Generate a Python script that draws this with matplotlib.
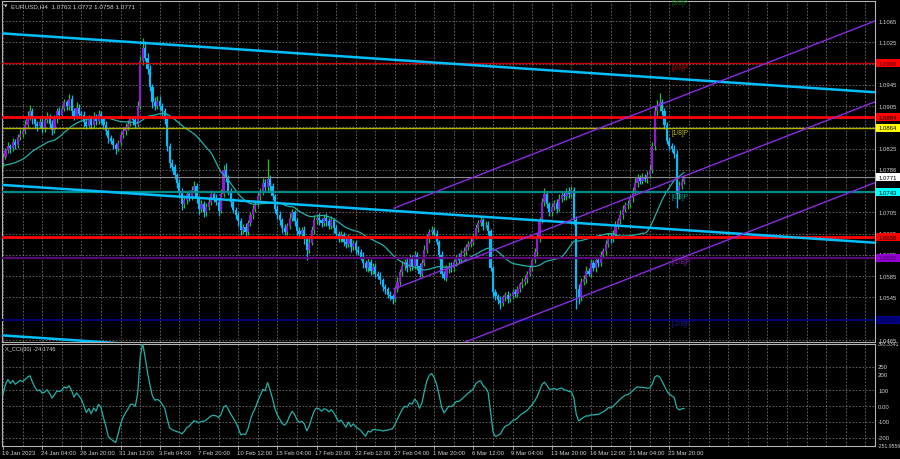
import numpy as np
import pandas as pd
import matplotlib
matplotlib.use("Agg")
import matplotlib.pyplot as plt
from matplotlib.patches import Rectangle
from matplotlib.transforms import blended_transform_factory as blend

# ---------------- data ----------------
SYMBOL_TITLE = "EURUSD,H4  1.0763 1.0772 1.0758 1.0771"
CCI_TITLE = "X_CCI(30) -24.1746"

# H4 closes before the visible window (warm-up for MA(30) and CCI(30))
PRE_CLOSE = [1.0800, 1.0795, 1.0805, 1.0798, 1.0790, 1.0785, 1.0792, 1.0788, 1.0780, 1.0772,
             1.0765, 1.0770, 1.0778, 1.0785, 1.0790, 1.0795, 1.0788, 1.0800, 1.0812, 1.0830,
             1.0845, 1.0800, 1.0790, 1.0785, 1.0780, 1.0788, 1.0795, 1.0790, 1.0798]

CLOSE = [
    1.0810, 1.0822, 1.0830, 1.0826, 1.0838, 1.0832, 1.0846, 1.0852,
    1.0858, 1.0870, 1.0885, 1.0895, 1.0880, 1.0872, 1.0868, 1.0875,
    1.0862, 1.0878, 1.0885, 1.0872, 1.0860, 1.0880, 1.0895, 1.0888,
    1.0900, 1.0912, 1.0905, 1.0918, 1.0895, 1.0885, 1.0902, 1.0890,
    1.0888, 1.0875, 1.0868, 1.0882, 1.0870, 1.0885, 1.0876, 1.0890,
    1.0880, 1.0870, 1.0858, 1.0845, 1.0840, 1.0832, 1.0825, 1.0835,
    1.0850, 1.0858, 1.0866, 1.0872, 1.0880, 1.0878, 1.0870, 1.0905,
    1.0990, 1.1015, 1.0995, 1.0975, 1.0940, 1.0912, 1.0905, 1.0915,
    1.0905, 1.0895, 1.0880, 1.0830, 1.0798, 1.0790, 1.0775, 1.0760,
    1.0745, 1.0720, 1.0728, 1.0740, 1.0735, 1.0748, 1.0755, 1.0730,
    1.0712, 1.0720, 1.0705, 1.0715, 1.0725, 1.0740, 1.0732, 1.0725,
    1.0708, 1.0740, 1.0785, 1.0770, 1.0745, 1.0725, 1.0710, 1.0700,
    1.0688, 1.0672, 1.0678, 1.0668, 1.0685, 1.0700, 1.0712, 1.0720,
    1.0735, 1.0745, 1.0760, 1.0752, 1.0768, 1.0755, 1.0735, 1.0712,
    1.0700, 1.0690, 1.0675, 1.0668, 1.0680, 1.0695, 1.0705, 1.0688,
    1.0670, 1.0665, 1.0672, 1.0655, 1.0635, 1.0648, 1.0672, 1.0690,
    1.0695, 1.0690, 1.0685, 1.0695, 1.0688, 1.0680, 1.0690, 1.0675,
    1.0665, 1.0655, 1.0662, 1.0650, 1.0645, 1.0655, 1.0640, 1.0648,
    1.0635, 1.0630, 1.0622, 1.0610, 1.0600, 1.0612, 1.0595, 1.0603,
    1.0590, 1.0585, 1.0578, 1.0565, 1.0560, 1.0550, 1.0548, 1.0542,
    1.0560, 1.0575, 1.0592, 1.0605, 1.0612, 1.0600, 1.0620, 1.0605,
    1.0625, 1.0605, 1.0590, 1.0610, 1.0635, 1.0655, 1.0668, 1.0672,
    1.0665, 1.0650, 1.0625, 1.0590, 1.0582, 1.0598, 1.0605, 1.0600,
    1.0612, 1.0620, 1.0615, 1.0628, 1.0632, 1.0640, 1.0645, 1.0650,
    1.0660, 1.0675, 1.0685, 1.0690, 1.0680, 1.0682, 1.0670, 1.0600,
    1.0555, 1.0548, 1.0540, 1.0535, 1.0545, 1.0550, 1.0543, 1.0548,
    1.0555, 1.0552, 1.0560, 1.0570, 1.0575, 1.0580, 1.0590, 1.0600,
    1.0615, 1.0630, 1.0655, 1.0690, 1.0725, 1.0740, 1.0720, 1.0705,
    1.0715, 1.0722, 1.0712, 1.0730, 1.0738, 1.0735, 1.0745, 1.0740,
    1.0748, 1.0690, 1.0560, 1.0545, 1.0575, 1.0580, 1.0595, 1.0590,
    1.0610, 1.0600, 1.0615, 1.0610, 1.0625, 1.0632, 1.0645, 1.0660,
    1.0655, 1.0665, 1.0680, 1.0690, 1.0700, 1.0712, 1.0718, 1.0720,
    1.0732, 1.0745, 1.0760, 1.0770, 1.0765, 1.0772, 1.0768, 1.0775,
    1.0785, 1.0830, 1.0895, 1.0905, 1.0912, 1.0895, 1.0870, 1.0840,
    1.0830, 1.0825, 1.0815, 1.0740, 1.0755, 1.0763, 1.0771]

UPPER_WICK_PIPS = [
    6, 5, 8, 4, 7, 5, 6, 9,   5, 8, 10, 12, 6, 7, 5, 8,   9, 6, 8, 5, 7, 9, 6, 8,
    7, 6, 5, 9, 8, 6, 10, 7,  5, 8, 6, 7, 5, 9, 6, 8,    6, 5, 7, 4, 6, 5, 4, 7,
    6, 5, 8, 6, 7, 5, 8, 10,  10, 18, 12, 9, 8, 7, 10, 9, 8, 6, 7, 9, 5, 8, 6, 5,
    7, 5, 9, 6, 8, 7, 10, 6,  5, 8, 6, 7, 9, 8, 6, 7,    5, 9, 10, 12, 6, 5, 7, 6,
    5, 7, 6, 8, 5, 6, 7, 5,   8, 6, 9, 7, 37, 8, 6, 5,   6, 7, 5, 8, 6, 9, 7, 5,
    6, 8, 5, 7, 6, 9, 7, 8,   6, 9, 5, 7, 8, 6, 9, 5,    7, 5, 8, 6, 7, 9, 5, 6,
    5, 7, 6, 8, 5, 9, 6, 7,   6, 5, 7, 4, 6, 5, 7, 4,    6, 8, 7, 9, 6, 8, 7, 5,
    8, 6, 5, 7, 8, 9, 6, 8,   5, 6, 4, 7, 5, 8, 6, 7,    6, 5, 8, 6, 7, 5, 6, 8,
    7, 9, 6, 8, 5, 7, 6, 4,   5, 6, 4, 7, 5, 6, 8, 5,    6, 5, 7, 5, 6, 8, 5, 7,
    6, 8, 9, 7, 8, 10, 6, 5,  7, 6, 8, 9, 6, 7, 5, 8,    6, 4, 8, 10, 6, 7, 9, 6,
    8, 6, 7, 5, 8, 6, 9, 7,   6, 7, 8, 5, 9, 6, 7, 8,    6, 7, 9, 8, 6, 7, 5, 8,
    9, 7, 10, 12, 18, 6, 7, 5, 6, 5, 7, 8, 9, 6, 1]

LOWER_WICK_PIPS = [
    7, 5, 6, 9, 5, 8, 6, 5,   6, 5, 7, 6, 9, 8, 10, 5,   7, 6, 5, 8, 9, 5, 6, 7,
    6, 5, 8, 7, 9, 6, 5, 8,   7, 9, 6, 5, 8, 6, 7, 5,    6, 8, 7, 9, 6, 8, 10, 5,
    6, 5, 7, 6, 5, 8, 6, 5,   5, 8, 6, 9, 7, 10, 8, 6,   7, 9, 8, 10, 9, 7, 8, 9,
    8, 10, 6, 7, 9, 6, 5, 8,  10, 7, 9, 6, 5, 7, 8, 6,   9, 5, 6, 7, 8, 9, 7, 8,
    9, 10, 7, 8, 6, 5, 7, 6,  5, 6, 7, 8, 6, 9, 7, 8,    7, 8, 9, 6, 5, 7, 6, 8,
    7, 6, 8, 10, 20, 6, 5, 7, 6, 8, 7, 5, 9, 6, 7, 8,    7, 6, 5, 8, 7, 6, 9, 5,
    8, 6, 7, 9, 6, 8, 7, 6,   7, 6, 8, 7, 9, 6, 8, 9,    6, 5, 7, 6, 8, 7, 5, 9,
    6, 8, 7, 5, 6, 7, 8, 6,   7, 6, 8, 9, 5, 6, 7, 8,    6, 7, 5, 6, 8, 7, 6, 5,
    6, 5, 7, 6, 8, 5, 7, 6,   9, 7, 8, 11, 6, 7, 8, 6,   5, 7, 6, 5, 7, 6, 8, 5,
    6, 5, 7, 6, 5, 8, 7, 6,   7, 6, 8, 5, 6, 7, 6, 8,    6, 8, 37, 12, 7, 6, 8, 5,
    7, 6, 8, 7, 6, 5, 7, 6,   8, 6, 5, 7, 6, 8, 7, 6,    5, 7, 6, 8, 7, 6, 5, 7,
    6, 5, 7, 8, 9, 7, 8, 6,   7, 6, 8, 27, 9, 6, 5]

TIME_LABELS = ["19 Jan 2023", "24 Jan 04:00", "26 Jan 20:00", "31 Jan 12:00", "3 Feb 04:00",
               "7 Feb 20:00", "10 Feb 12:00", "15 Feb 04:00", "17 Feb 20:00", "22 Feb 12:00",
               "27 Feb 04:00", "1 Mar 20:00", "6 Mar 12:00", "9 Mar 04:00", "13 Mar 20:00",
               "16 Mar 12:00", "21 Mar 04:00", "23 Mar 20:00"]
TIME_LABEL_BARS = [0, 16, 32, 48, 64, 80, 96, 112, 128, 144, 160, 176, 192, 208, 224, 240, 256, 272]

PRICE_TICKS = [1.1065, 1.1025, 1.0985, 1.0945, 1.0905, 1.0865, 1.0825, 1.0785,
               1.0745, 1.0705, 1.0665, 1.0625, 1.0585, 1.0545, 1.0505, 1.0465]
PRICE_TICK_LABELS = ["1.1065", "1.1025", "1.0985", "1.0945", "1.0905", "1.0865", "1.0825", "1.0786",
                     "1.0745", "1.0705", "1.0665", "1.0625", "1.0585", "1.0545", "1.0505", "1.0465"]

CCI_TICKS = [393.3341, 250, 200, 100, 0, -100, -200, -251.9556]
CCI_TICK_LABELS = ["393.3341", "250", "200", "100", "0.00", "-100", "-200", "-251.9556"]
CCI_GRID = [250, 100, 0, -100, -200]

LEVEL_PRICES = [1.0986, 1.0884, 1.0864, 1.0771, 1.0743, 1.0658, 1.0620, 1.0503]
LEVEL_TEXTS = ["1.0986", "1.0884", "1.0864", "1.0771", "1.0743", "1.0658", "1.0620", "1.0503"]

MURREY_TEXTS = ["[3/8]P", "[2/8]P", "[1/8]P", "[0/8]P", "[-1/8]P", "[-2/8]P"]
MURREY_PRICES = [1.1108, 1.0986, 1.0864, 1.0743, 1.0620, 1.0503]
MURREY_BAR = 273

# trend lines: (bar, price) anchors
BLUE_LINES = [((-1.2, 1.1042), (355.9, 1.0931)),
              ((-1.2, 1.0757), (355.9, 1.0648)),
              ((-1.2, 1.0474), (355.9, 1.0363))]
CHANNEL_LINES = [((159.6, 1.0713), (355.9, 1.1065)),
                 ((159.6, 1.0561), (355.9, 1.0913)),
                 ((159.6, 1.0409), (355.9, 1.0761))]

MA_PERIOD = 30
CCI_PERIOD = 30

# ---------------- styles ----------------
BG = "black"
FG = "#d0d0d0"
GRID_C = "#6e6e6e"
BULL = "#9418dc"
BULL_WICK = "#22c422"
BEAR = "#00bfff"
MA_C = "#20b2aa"
LEVEL_COLORS = ["#c80000", "#ff0000", "#b4b400", "#8c8c8c", "#008b8b", "#ff0000", "#5a0a78", "#00006e"]
LEVEL_WIDTHS = [1.0, 2.0, 1.0, 0.8, 1.6, 2.0, 1.6, 1.6]
BOX_FACE = ["#ff0000", "#ff0000", "#ffff00", "#ffffff", "#00ffff", "#ff0000", "#9400d3", "#000080"]
BOX_TEXT = ["#5a0000", "#000000", "#000000", "#000000", "#000000", "#000000", "#40005a", "#000050"]
MURREY_COLORS = ["#006400", "#c00000", "#c8c800", "#00a0a0", "#9020c0", "#2020a0"]
FONT = ["Liberation Sans", "DejaVu Sans"]
FS = 4.3

W, H = 900, 460
fig = plt.figure(figsize=(W / 100, H / 100), dpi=100, facecolor=BG)


def add_ax(l, t, r, b):
    return fig.add_axes([l / W, 1 - b / H, (r - l) / W, (b - t) / H])


ax = add_ax(2, 2, 875, 343)
cx = add_ax(2, 345, 875, 447)
XLIM = (-0.41, 355.92)
YLIM = (1.046124, 1.110262)
CLIM = (-251.9556, 393.3341)

for a in (ax, cx):
    a.set_facecolor(BG)
    a.set_xlim(*XLIM)
    a.set_xticks([])
    a.set_yticks([])
    for s in a.spines.values():
        s.set_color("#b4b4b4")
        s.set_linewidth(0.8)
ax.set_ylim(*YLIM)
cx.set_ylim(*CLIM)

# grid
grid_bars = np.arange(0, 356, 8)
for a in (ax, cx):
    for gb in grid_bars:
        a.axvline(gb, color=GRID_C, lw=0.6, ls=(0, (2, 2)), zorder=0)
for p in PRICE_TICKS:
    ax.axhline(p, color=GRID_C, lw=0.6, ls=(0, (2, 2)), zorder=0)
for v in CCI_GRID:
    cx.axhline(v, color=GRID_C, lw=0.6, ls=(0, (2, 2)), zorder=0)

# candles
close = np.array(CLOSE)
open_ = np.concatenate([[PRE_CLOSE[-1]], close[:-1]])
high = np.maximum(open_, close) + np.array(UPPER_WICK_PIPS) * 1e-4
low = np.minimum(open_, close) - np.array(LOWER_WICK_PIPS) * 1e-4
xb = np.arange(len(close))
up = close >= open_
ax.vlines(xb[up], low[up], high[up], color=BULL_WICK, lw=0.9, zorder=2)
ax.vlines(xb[~up], low[~up], high[~up], color=BEAR, lw=0.9, zorder=2)
bh = np.maximum(np.abs(close - open_), 0.00005)
bb = np.minimum(open_, close)
ax.bar(xb[up], bh[up], bottom=bb[up], width=0.86, color=BULL, lw=0, zorder=2.1)
ax.bar(xb[~up], bh[~up], bottom=bb[~up], width=0.86, color=BEAR, lw=0, zorder=2.1)

# moving average
full_close = pd.Series(np.concatenate([PRE_CLOSE, close]))
ma = full_close.rolling(MA_PERIOD).mean().values[len(PRE_CLOSE):]
ax.plot(xb, ma, color=MA_C, lw=0.9, zorder=3)

# horizontal levels
for p, c, lw in zip(LEVEL_PRICES, LEVEL_COLORS, LEVEL_WIDTHS):
    ax.axhline(p, color=c, lw=lw, zorder=4)

# trend lines and channel
for (x0, y0), (x1, y1) in BLUE_LINES:
    ax.plot([x0, x1], [y0, y1], color="#00bfff", lw=1.8, zorder=5, solid_capstyle="butt")
for (x0, y0), (x1, y1) in CHANNEL_LINES:
    ax.plot([x0, x1], [y0, y1], color="#8a2be2", lw=1.0, zorder=5)

# murrey texts
for t, p, c in zip(MURREY_TEXTS, MURREY_PRICES, MURREY_COLORS):
    ax.text(MURREY_BAR, p - 0.00012, t, color=c, fontsize=FS + 0.4, family=FONT,
            va="top", ha="left", zorder=6, clip_on=False)

# price axis labels
tr = blend(ax.transAxes, ax.transData)
for p, t in zip(PRICE_TICKS, PRICE_TICK_LABELS):
    ax.text(1.0040, p, t, transform=tr, color=FG, fontsize=FS, family=FONT,
            va="center", ha="left", clip_on=False)
px_per_price = 341 / (YLIM[1] - YLIM[0])
box_h = 8.0 / px_per_price
for p, t, fc, tc in zip(LEVEL_PRICES, LEVEL_TEXTS, BOX_FACE, BOX_TEXT):
    ax.add_patch(Rectangle((1.0011, p - box_h / 2), 0.0270, box_h, transform=tr,
                           facecolor=fc, edgecolor="none", clip_on=False, zorder=10))
    ax.text(1.0040, p, t, transform=tr, color=tc, fontsize=FS, family=FONT,
            va="center", ha="left", clip_on=False, zorder=11)

# CCI
tp = (high + low + close) / 3
tp_full = pd.Series(np.concatenate([PRE_CLOSE, tp]))
sma_tp = tp_full.rolling(CCI_PERIOD).mean()
md = tp_full.rolling(CCI_PERIOD).apply(lambda v: np.mean(np.abs(v - v.mean())), raw=True)
cci = ((tp_full - sma_tp) / (0.015 * md)).values[len(PRE_CLOSE):]
cx.plot(xb, cci, color=MA_C, lw=0.9, zorder=3)

trc = blend(cx.transAxes, cx.transData)
for v, t in zip(CCI_TICKS, CCI_TICK_LABELS):
    fs = FS - 0.6 if len(t) > 6 else FS
    cx.text(1.0035, v, t, transform=trc, color=FG, fontsize=fs, family=FONT,
            va="center", ha="left", clip_on=False)

# time axis
trx = blend(cx.transData, cx.transAxes)
for b, t in zip(TIME_LABEL_BARS, TIME_LABELS):
    cx.text(b - 0.5, -0.06, t, transform=trx, color=FG, fontsize=FS, family=FONT,
            va="center", ha="left", clip_on=False)
    cx.plot([b, b], [0, -0.025], transform=trx, color="#b4b4b4", lw=0.6, clip_on=False)

# titles
fig.text(4 / W, 1 - 6.5 / H, "\u25bc", color=FG, fontsize=3.2, family=["DejaVu Sans"],
         va="center", ha="left")
fig.text(11 / W, 1 - 6.5 / H, SYMBOL_TITLE, color=FG, fontsize=FS + 0.3, family=FONT,
         va="center", ha="left")
fig.text(5 / W, 1 - 349.5 / H, CCI_TITLE, color=FG, fontsize=FS - 0.2, family=FONT,
         va="center", ha="left")

fig.savefig("out.png", dpi=100, facecolor=BG)
